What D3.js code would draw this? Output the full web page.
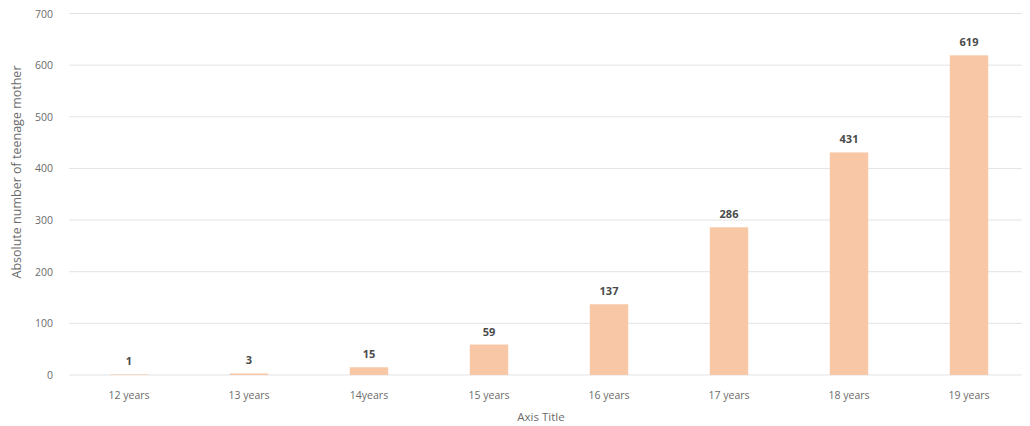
<!DOCTYPE html>
<html>
<head>
<meta charset="utf-8">
<script src="https://cdn.jsdelivr.net/npm/d3@7"></script>
<style>
  body { margin: 0; background: #fff; }
  text { font-family: "Open Sans", "Liberation Sans", sans-serif; }
</style>
</head>
<body>
<div id="canvas"></div>
<script>
"use strict"

/* data */
let ageGroups = ["12 years", "13 years", "14years", "15 years", "16 years", "17 years", "18 years", "19 years"];
let mothers = [1, 3, 15, 59, 137, 286, 431, 619];
let yTicks = [0, 100, 200, 300, 400, 500, 600, 700];

/* drawing */
let svgWidth = 1030;
let svgHeight = 426;

let svg = d3.select("#canvas")
    .append("svg")
    .attr("width", svgWidth)
    .attr("height", svgHeight);

let xScale = d3.scaleBand()
    .domain(ageGroups)
    .range([69, 1029])
    .paddingInner(0.68)
    .paddingOuter(0.34);

let yScale = d3.scaleLinear()
    .domain([0, 700])
    .range([375, 13.5]);

/* gridlines */
svg.selectAll("line.grid")
    .data(yTicks)
    .join("line")
    .attr("class", "grid")
    .attr("x1", 69)
    .attr("x2", 1022)
    .attr("y1", d => yScale(d))
    .attr("y2", d => yScale(d))
    .attr("stroke", "#e3e3e3")
    .attr("stroke-width", 1);

/* y tick labels */
svg.selectAll("text.ytick")
    .data(yTicks)
    .join("text")
    .attr("class", "ytick")
    .attr("x", 53)
    .attr("y", d => yScale(d) + 4)
    .attr("text-anchor", "end")
    .attr("font-size", "10.5px")
    .attr("fill", "#6b6b6b")
    .text(d => d);

/* bars */
svg.selectAll("rect.bar")
    .data(mothers)
    .join("rect")
    .attr("class", "bar")
    .attr("x", (d, i) => xScale(ageGroups[i]))
    .attr("y", d => yScale(d))
    .attr("width", xScale.bandwidth())
    .attr("height", d => yScale(0) - yScale(d))
    .attr("fill", "#f8c8a6");

/* data labels */
svg.selectAll("text.value")
    .data(mothers)
    .join("text")
    .attr("class", "value")
    .attr("x", (d, i) => xScale(ageGroups[i]) + xScale.bandwidth() / 2)
    .attr("y", d => yScale(d) - 9)
    .attr("text-anchor", "middle")
    .attr("font-size", "11px")
    .attr("font-weight", "bold")
    .attr("fill", "#4a4a4a")
    .text(d => d);

/* x tick labels */
svg.selectAll("text.xtick")
    .data(ageGroups)
    .join("text")
    .attr("class", "xtick")
    .attr("x", d => xScale(d) + xScale.bandwidth() / 2)
    .attr("y", 399)
    .attr("text-anchor", "middle")
    .attr("font-size", "10.5px")
    .attr("fill", "#6b6b6b")
    .text(d => d);

/* axis titles */
svg.append("text")
    .attr("x", 541)
    .attr("y", 421)
    .attr("text-anchor", "middle")
    .attr("font-size", "11.5px")
    .attr("fill", "#6b6b6b")
    .text("Axis Title");

svg.append("text")
    .attr("transform", "translate(21,172) rotate(-90)")
    .attr("text-anchor", "middle")
    .attr("font-size", "12.5px")
    .attr("fill", "#6b6b6b")
    .text("Absolute number of teenage mother");
</script>
</body>
</html>
